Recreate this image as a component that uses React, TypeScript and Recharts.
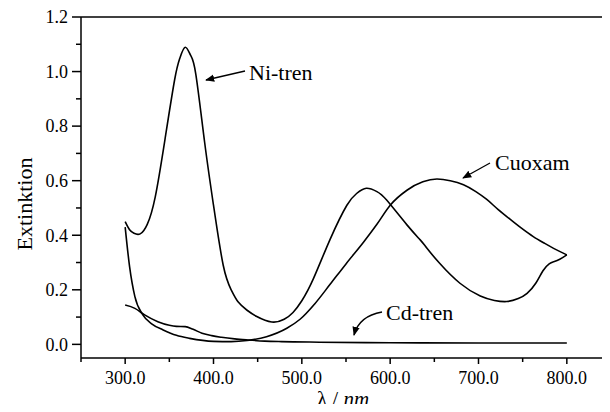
import React from 'react'
import { LineChart, Line, XAxis, YAxis, ReferenceLine } from 'recharts'

// wavelength (nm) and extinction for each complex
const niTrenLambda = [300, 305, 310, 317, 325, 334, 345, 356, 362, 368, 374, 380, 390, 400, 411, 420, 428, 438, 449, 466, 480, 490, 500, 513, 532, 551, 562, 573, 585, 596, 619, 634, 641, 656, 679, 702, 718, 732, 745, 755, 765, 773, 780, 785, 792, 800]
const niTrenExt = [0.45, 0.42, 0.407, 0.405, 0.44, 0.54, 0.75, 0.97, 1.05, 1.089, 1.06, 0.99, 0.74, 0.51, 0.29, 0.2, 0.155, 0.125, 0.102, 0.082, 0.092, 0.117, 0.16, 0.24, 0.385, 0.51, 0.553, 0.572, 0.56, 0.529, 0.438, 0.383, 0.355, 0.297, 0.224, 0.177, 0.161, 0.157, 0.168, 0.187, 0.225, 0.27, 0.295, 0.303, 0.312, 0.328]

const cuoxamLambda = [300, 305, 311, 320, 330, 343, 358, 373, 400, 420, 438, 460, 483, 498, 515, 532, 550, 570, 585, 600, 619, 637, 653, 668, 683, 697, 709, 722, 736, 749, 762, 775, 785, 800]
const cuoxamExt = [0.43, 0.285, 0.175, 0.108, 0.075, 0.053, 0.033, 0.022, 0.011, 0.01, 0.014, 0.028, 0.059, 0.092, 0.15, 0.22, 0.295, 0.375, 0.44, 0.51, 0.565, 0.596, 0.606, 0.6, 0.585, 0.56, 0.532, 0.495, 0.458, 0.425, 0.395, 0.37, 0.352, 0.328]

const cdTrenLambda = [300, 311, 322, 337, 350, 358, 368, 377, 387, 398, 409, 424, 439, 458, 477, 520, 600, 700, 800]
const cdTrenExt = [0.144, 0.132, 0.108, 0.083, 0.07, 0.066, 0.065, 0.055, 0.041, 0.032, 0.026, 0.02, 0.016, 0.012, 0.01, 0.008, 0.006, 0.005, 0.005]

const xMajor = [300, 400, 500, 600, 700, 800]
const xMinor = [250, 350, 450, 550, 650, 750]
const yMajor = [0, 0.2, 0.4, 0.6, 0.8, 1.0, 1.2]
const yMinor = [0.1, 0.3, 0.5, 0.7, 0.9, 1.1]

const toRows = (xs: number[], ys: number[]) => xs.map((x, i) => ({ x, y: ys[i] }))

const niTren = toRows(niTrenLambda, niTrenExt)
const cuoxam = toRows(cuoxamLambda, cuoxamExt)
const cdTren = toRows(cdTrenLambda, cdTrenExt)

const font = 'Liberation Serif'
const isIn = (list: number[], v: number) => list.some(t => Math.abs(t - v) < 1e-6)

const XTick = (props: any) => {
  const { x, y, payload } = props
  const major = isIn(xMajor, payload.value)
  return (
    <g>
      <line x1={x} x2={x} y1={y} y2={y + (major ? 6 : 4)} stroke='#000' strokeWidth={1.5} />
      {major && (
        <text x={x} y={y + 26} textAnchor='middle' fontSize={18} fontFamily={font} fill='#000'>
          {payload.value.toFixed(1)}
        </text>
      )}
    </g>
  )
}

const YTick = (props: any) => {
  const { x, y, payload } = props
  const major = isIn(yMajor, payload.value)
  return (
    <g>
      <line x1={x - (major ? 9 : 5)} x2={x} y1={y} y2={y} stroke='#000' strokeWidth={1.5} />
      {major && (
        <text x={x - 13} y={y} dy='0.35em' textAnchor='end' fontSize={18} fontFamily={font} fill='#000'>
          {payload.value.toFixed(1)}
        </text>
      )}
    </g>
  )
}

export default function App() {
  return (
    <div style={{ position: 'relative', margin: -8, width: 610, height: 412, overflow: 'hidden', background: '#fff' }}>
      <LineChart width={620} height={412} margin={{ top: 17, right: 9, left: 0, bottom: 0 }}>
        <XAxis
          type='number'
          dataKey='x'
          domain={[250, 850]}
          ticks={[...xMinor, ...xMajor].sort((a, b) => a - b)}
          interval={0}
          height={54}
          tickSize={0}
          tickMargin={0}
          tickLine={false}
          tick={<XTick />}
          axisLine={{ stroke: '#000', strokeWidth: 1.5 }}
          allowDataOverflow
        />
        <YAxis
          type='number'
          domain={[-0.05, 1.2]}
          ticks={[...yMajor, ...yMinor].sort((a, b) => a - b)}
          interval={0}
          width={81}
          tickSize={0}
          tickMargin={0}
          tickLine={false}
          tick={<YTick />}
          axisLine={{ stroke: '#000', strokeWidth: 1.5 }}
          allowDataOverflow
        />
        <ReferenceLine y={1.2} stroke='#000' strokeWidth={1.5} />
        <Line data={niTren} dataKey='y' type='natural' stroke='#000' strokeWidth={1.6} dot={false} isAnimationActive={false} />
        <Line data={cuoxam} dataKey='y' type='monotone' stroke='#000' strokeWidth={1.6} dot={false} isAnimationActive={false} />
        <Line data={cdTren} dataKey='y' type='monotone' stroke='#000' strokeWidth={1.6} dot={false} isAnimationActive={false} />
      </LineChart>
      <svg width={610} height={412} style={{ position: 'absolute', left: 0, top: 0, pointerEvents: 'none' }}>
        <defs>
          <marker id='arr' viewBox='0 0 10 10' refX='9' refY='5' markerWidth='7' markerHeight='7' orient='auto'>
            <path d='M0,1 L10,5 L0,9 Z' fill='#000' />
          </marker>
        </defs>
        <text x={249} y={80} fontFamily={font} fontSize={22} fill='#000'>Ni-tren</text>
        <text x={495} y={170} fontFamily={font} fontSize={22} fill='#000'>Cuoxam</text>
        <text x={386} y={320} fontFamily={font} fontSize={22} fill='#000'>Cd-tren</text>
        <text x={343} y={406} textAnchor='middle' fontFamily={font} fontSize={21} fill='#000'>
          λ / <tspan fontStyle='italic'>nm</tspan>
        </text>
        <text transform='translate(31.5,204) rotate(-90)' textAnchor='middle' fontFamily={font} fontSize={22} fill='#000'>Extinktion</text>
        <line x1={245} y1={71} x2={206} y2={80} stroke='#000' strokeWidth={1.3} markerEnd='url(#arr)' />
        <line x1={490} y1={163} x2={463} y2={178} stroke='#000' strokeWidth={1.3} markerEnd='url(#arr)' />
        <path d='M382,312 Q359,316 354,335' fill='none' stroke='#000' strokeWidth={1.3} markerEnd='url(#arr)' />
      </svg>
    </div>
  )
}
